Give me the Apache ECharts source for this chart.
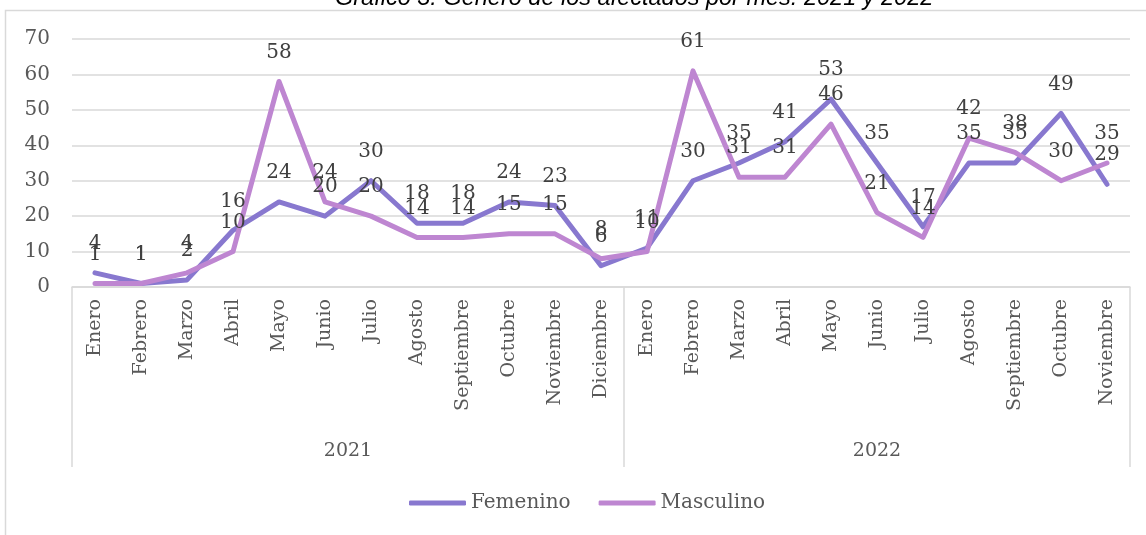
<!DOCTYPE html>
<html><head><meta charset="utf-8">
<script src="https://cdn.jsdelivr.net/npm/echarts@6/dist/echarts.min.js"></script>
<style>html,body{margin:0;padding:0;background:#fff}#c{width:1146px;height:535px}</style>
</head><body><div id="c"></div>
<script>
const titleText = 'Gráfico 3. Género de los afectados por mes. 2021 y 2022';
const months2021 = ['Enero','Febrero','Marzo','Abril','Mayo','Junio','Julio','Agosto','Septiembre','Octubre','Noviembre','Diciembre'];
const months2022 = ['Enero','Febrero','Marzo','Abril','Mayo','Junio','Julio','Agosto','Septiembre','Octubre','Noviembre'];
const years = ['2021','2022'];
const femenino = [4,1,2,16,24,20,30,18,18,24,23,6, 11,30,35,41,53,35,17,35,35,49,29];
const masculino = [1,1,4,10,58,24,20,14,14,15,15,8, 10,61,31,31,46,21,14,42,38,30,35];
const seriesNames = ['Femenino','Masculino'];

const months = months2021.concat(months2022);
const n = months.length;
const yearStart = [0, months2021.length];
const yearEnd = [months2021.length, n];
const yearCenters = years.map((y,i)=> (yearStart[i]+yearEnd[i])/2);
const boundaries = [0, months2021.length, n];

const font = 'DejaVu Serif';
const txt = '#595959';
const gridColor = '#d9d9d9';
const colors = ['#8878cf','#be86d1'];
const chart = echarts.init(document.getElementById('c'), null, {renderer:'canvas'});
const lbl = {show:true, position:'top', distance:19, fontFamily:font, fontSize:20, color:'#404040'};
chart.setOption({
  animation:false,
  title:{text:titleText, left:330, top:-18, textStyle:{fontFamily:'Liberation Sans', fontStyle:'italic', fontWeight:'normal', fontSize:23.5, color:'#000'}},
  graphic:[{type:'rect', shape:{x:5.5,y:10.5,width:1300,height:700}, style:{fill:null, stroke:gridColor, lineWidth:1.5}, silent:true, z:-10}],
  grid:{left:72, right:16, top:39, bottom:248},
  legend:{top:488, left:404, itemWidth:57, itemHeight:5, itemGap:28, icon:'roundRect',
    textStyle:{fontFamily:font, fontSize:20, color:txt}, data:seriesNames},
  xAxis:[
    {type:'category', data:months, boundaryGap:true,
     axisLine:{lineStyle:{color:gridColor, width:1.5}}, axisTick:{show:false},
     axisLabel:{rotate:90, margin:12, interval:0, fontFamily:font, fontSize:19, color:txt}},
    {type:'value', min:0, max:n, position:'bottom', axisLine:{show:false}, splitLine:{show:false},
     axisTick:{show:true, customValues:boundaries, length:180, lineStyle:{color:gridColor, width:1.5}},
     axisLabel:{customValues:yearCenters, margin:155, fontFamily:font, fontSize:19, color:txt,
       formatter:(v)=>{const i=yearCenters.indexOf(v); return i>=0?years[i]:'';}}}
  ],
  yAxis:{type:'value', min:0, max:70, interval:10, axisLine:{show:false}, axisTick:{show:false},
    splitLine:{lineStyle:{color:gridColor, width:1.5}},
    axisLabel:{margin:22, fontFamily:font, fontSize:20, color:txt}},
  series:seriesNames.map((name,i)=>({
    name:name, type:'line', data:[femenino, masculino][i], xAxisIndex:0,
    symbol:'circle', symbolSize:0, showSymbol:true,
    lineStyle:{width:5, color:colors[i], cap:'round', join:'round'}, itemStyle:{color:colors[i]}, label:lbl
  }))
});
</script></body></html>
